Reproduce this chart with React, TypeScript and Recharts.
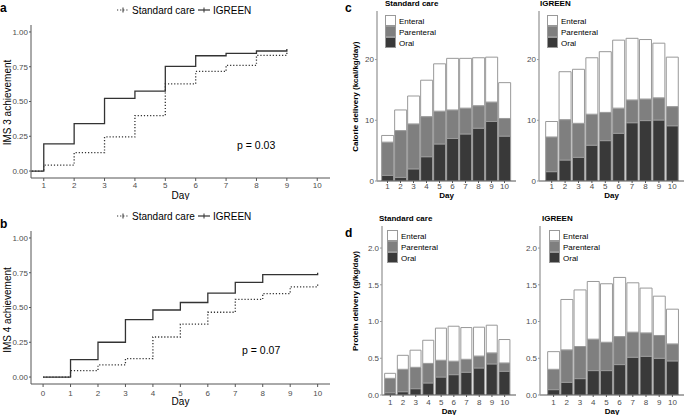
import React from 'react';
import { LineChart, Line, BarChart, Bar, XAxis, YAxis, Legend, Label } from 'recharts';

const FONT = '"Liberation Sans", Arial, sans-serif';

// IMS achievement (cumulative), step values per day
const DAYS_IMS3 = [0, 1, 2, 3, 4, 5, 6, 7, 8, 9];
const IGREEN_IMS3 = [0, 0.195, 0.341, 0.522, 0.575, 0.752, 0.829, 0.846, 0.863, 0.877];
const STANDARD_IMS3 = [0, 0.043, 0.132, 0.245, 0.399, 0.627, 0.716, 0.76, 0.832, 0.85];

const DAYS_IMS4 = [0, 1, 2, 3, 4, 5, 6, 7, 8, 9, 10];
const IGREEN_IMS4 = [0, 0.125, 0.25, 0.413, 0.482, 0.536, 0.603, 0.68, 0.736, 0.736, 0.75];
const STANDARD_IMS4 = [0, 0.046, 0.087, 0.132, 0.288, 0.38, 0.466, 0.558, 0.6, 0.649, 0.67];

const SURV_ORDER = ['Standard care', 'IGREEN'];

// nutrition delivery by route, days 1-10
const DAYS = ['1', '2', '3', '4', '5', '6', '7', '8', '9', '10'];
const ROUTE_ORDER = ['Enteral', 'Parenteral', 'Oral'];

const CAL_STD_ORAL = [0.93, 0.6, 2.0, 4.0, 6.1, 7.0, 7.75, 8.7, 9.8, 7.4];
const CAL_STD_PARENTERAL = [5.47, 7.7, 7.4, 6.6, 5.4, 4.7, 4.25, 3.7, 3.2, 2.9];
const CAL_STD_ENTERAL = [1.1, 3.4, 4.6, 6.0, 7.8, 8.5, 8.2, 7.9, 7.4, 5.9];

const CAL_IGR_ORAL = [1.54, 3.46, 3.9, 5.9, 6.65, 7.86, 9.6, 9.95, 10.05, 9.1];
const CAL_IGR_PARENTERAL = [5.71, 6.64, 5.6, 5.1, 4.65, 4.14, 3.75, 3.55, 3.65, 3.15];
const CAL_IGR_ENTERAL = [2.55, 7.9, 8.9, 9.3, 10.0, 11.2, 10.15, 9.8, 9.0, 8.15];

const PRO_STD_ORAL = [0.03, 0.045, 0.086, 0.164, 0.245, 0.277, 0.31, 0.368, 0.423, 0.323];
const PRO_STD_PARENTERAL = [0.197, 0.305, 0.291, 0.266, 0.228, 0.183, 0.176, 0.162, 0.15, 0.113];
const PRO_STD_ENTERAL = [0.068, 0.19, 0.233, 0.315, 0.437, 0.476, 0.432, 0.393, 0.377, 0.319];

const PRO_IGR_ORAL = [0.073, 0.173, 0.223, 0.332, 0.332, 0.414, 0.514, 0.527, 0.5, 0.464];
const PRO_IGR_PARENTERAL = [0.277, 0.441, 0.437, 0.428, 0.386, 0.381, 0.341, 0.318, 0.31, 0.231];
const PRO_IGR_ENTERAL = [0.24, 0.686, 0.77, 0.785, 0.796, 0.805, 0.672, 0.61, 0.535, 0.473];

const DOTTED = '1.2 1.9';

function sideTitle(text: string, x: number, y: number, size: number, bold = false) {
  return (
    <Label
      content={() => (
        <text x={x} y={y} transform={`rotate(-90, ${x}, ${y})`} textAnchor="middle" dominantBaseline="central"
          fontSize={size} fontWeight={bold ? 700 : 400} fontFamily={FONT} fill="#000">{text}</text>
      )}
    />
  );
}

function bottomTitle(text: string, y: number, size: number, bold = false) {
  return (
    <Label
      content={(props: any) => {
        const vb = props.viewBox || {};
        const x = (vb.x ?? 0) + (vb.width ?? 0) / 2;
        return (
          <text x={x} y={y} textAnchor="middle" dominantBaseline="central" fontSize={size}
            fontWeight={bold ? 700 : 400} fontFamily={FONT} fill="#000">{text}</text>
        );
      }}
    />
  );
}

const byOrder = (order: string[]) => (a: any, b: any) => order.indexOf(a.value) - order.indexOf(b.value);

function SurvKey({ payload }: any) {
  const items = [...(payload ?? [])].sort(byOrder(SURV_ORDER));
  const spots = [2, 83];
  return (
    <svg width={150} height={14}>
      {items.map((it: any, i: number) => {
        const x = spots[i] ?? 0;
        const dash = it.payload?.strokeDasharray;
        return (
          <g key={it.value}>
            <line x1={x} x2={x + 12} y1={7} y2={7} stroke="#333" strokeWidth={1.2} strokeDasharray={dash} />
            <line x1={x + 6} x2={x + 6} y1={4.5} y2={9.5} stroke="#333" strokeWidth={1} />
            <text x={x + 15} y={10.5} fontSize={10} fontFamily={FONT} fill="#000">{it.value}</text>
          </g>
        );
      })}
    </svg>
  );
}

function RouteKey({ payload }: any) {
  const items = [...(payload ?? [])].sort(byOrder(ROUTE_ORDER));
  return (
    <svg width={60} height={34}>
      {items.map((it: any, i: number) => (
        <g key={it.value}>
          <rect x={0.5} y={0.5 + i * 11} width={10} height={10} fill={it.color} stroke="#999" />
          <text x={14} y={8.5 + i * 11} fontSize={8} fontFamily={FONT} fill="#000">{it.value}</text>
        </g>
      ))}
    </svg>
  );
}

function Text({ x, y, size, bold, children }: any) {
  return (
    <div style={{ position: 'absolute', left: x, top: y, fontSize: size, lineHeight: `${size}px`, fontWeight: bold ? 700 : 400, fontFamily: FONT, whiteSpace: 'nowrap', color: '#000' }}>
      {children}
    </div>
  );
}

function SurvivalPanel(p: any) {
  const rows = p.days.map((d: number, i: number) => ({ day: d, standard: p.standard[i], igreen: p.igreen[i] }));
  const tick = { fontSize: 8, fill: '#4d4d4d', fontFamily: FONT };
  return (
    <div style={{ position: 'absolute', left: 0, top: p.top }}>
      <LineChart width={340} height={p.height} data={rows} margin={{ top: p.marginTop, right: 10, bottom: 0, left: 0 }}>
        <XAxis type="number" dataKey="day" domain={p.xDomain} ticks={p.xTicks} allowDataOverflow interval={0}
          height={p.xHeight} tickSize={3} tickMargin={p.xTickMargin} tick={tick}
          axisLine={{ stroke: '#555' }} tickLine={{ stroke: '#555' }}>
          {bottomTitle('Day', p.dayY, 10)}
        </XAxis>
        <YAxis domain={[-0.05, 1.05]} ticks={[0, 0.25, 0.5, 0.75, 1]} allowDataOverflow width={31}
          tickSize={2} tickMargin={1} tick={tick} tickFormatter={(v: number) => v.toFixed(2)}
          axisLine={{ stroke: '#555' }} tickLine={{ stroke: '#555' }}>
          {sideTitle(p.yTitle, 7, p.yTitleY, 10)}
        </YAxis>
        <Legend content={<SurvKey />} layout="vertical" align="center" verticalAlign="middle"
          wrapperStyle={{ left: 115, top: p.legendTop, width: 150, height: 14 }} />
        <Line type="stepAfter" dataKey="standard" name="Standard care" stroke="#333" strokeWidth={1.3}
          strokeDasharray={DOTTED} dot={false} activeDot={false} isAnimationActive={false} />
        <Line type="stepAfter" dataKey="igreen" name="IGREEN" stroke="#333" strokeWidth={1.3}
          dot={false} activeDot={false} isAnimationActive={false} />
      </LineChart>
    </div>
  );
}

function RoutePanel(p: any) {
  const rows = DAYS.map((d, i) => ({ day: d, oral: p.oral[i], parenteral: p.parenteral[i], enteral: p.enteral[i] }));
  const tick = { fontSize: 8, fill: '#4d4d4d', fontFamily: FONT };
  return (
    <div style={{ position: 'absolute', left: p.left, top: p.top }}>
      <BarChart width={p.width} height={p.height} data={rows} barCategoryGap="5%"
        margin={{ top: p.marginTop, right: p.marginRight, bottom: 0, left: 0 }}>
        <XAxis dataKey="day" height={p.xHeight} padding={p.pad} interval={0} tickSize={2} tickMargin={p.xTickMargin}
          tick={tick} axisLine={{ stroke: '#555' }} tickLine={{ stroke: '#555' }}>
          {bottomTitle('Day', p.dayY, 8, true)}
        </XAxis>
        <YAxis domain={[0, p.yMax]} ticks={p.yTicks} allowDataOverflow width={p.yWidth} tickSize={2} tickMargin={1}
          tick={tick} tickFormatter={(v: number) => v.toFixed(p.digits)}
          axisLine={{ stroke: '#9a9a9a', strokeWidth: 1.3 }} tickLine={{ stroke: '#9a9a9a' }}>
          {p.yTitle ? sideTitle(p.yTitle, p.yTitleX, p.yTitleY, 8, true) : null}
        </YAxis>
        <Legend content={<RouteKey />} layout="vertical" align="center" verticalAlign="middle"
          wrapperStyle={{ left: p.keyLeft, top: p.keyTop, width: 60, height: 34 }} />
        <Bar dataKey="oral" name="Oral" stackId="r" fill="#393939" stroke="#999" strokeWidth={1} isAnimationActive={false} />
        <Bar dataKey="parenteral" name="Parenteral" stackId="r" fill="#7f7f7f" stroke="#999" strokeWidth={1} isAnimationActive={false} />
        <Bar dataKey="enteral" name="Enteral" stackId="r" fill="#ffffff" stroke="#999" strokeWidth={1} isAnimationActive={false} />
      </BarChart>
    </div>
  );
}

export default function App() {
  return (
    <div style={{ position: 'absolute', left: 0, top: 0, width: 685, height: 415, background: '#fff', overflow: 'hidden' }}>
      <SurvivalPanel top={0} height={200} marginTop={25} xHeight={22} xTickMargin={1}
        days={DAYS_IMS3} igreen={IGREEN_IMS3} standard={STANDARD_IMS3}
        xDomain={[0.58, 10.42]} xTicks={[1, 2, 3, 4, 5, 6, 7, 8, 9, 10]}
        yTitle="IMS 3 achievement" yTitleY={102.5} dayY={195} legendTop={3} />
      <SurvivalPanel top={200} height={215} marginTop={31} xHeight={31} xTickMargin={3}
        days={DAYS_IMS4} igreen={IGREEN_IMS4} standard={STANDARD_IMS4}
        xDomain={[-0.44, 10.45]} xTicks={[0, 1, 2, 3, 4, 5, 6, 7, 8, 9, 10]}
        yTitle="IMS 4 achievement" yTitleY={110} dayY={201.7} legendTop={9} />

      <RoutePanel left={340} top={0} width={180} height={200} yWidth={37} marginTop={11} marginRight={4}
        xHeight={19} xTickMargin={0.5} pad={{ left: 4, right: 5 }} yMax={28} yTicks={[0, 10, 20]} digits={0}
        oral={CAL_STD_ORAL} parenteral={CAL_STD_PARENTERAL} enteral={CAL_STD_ENTERAL}
        keyLeft={45} keyTop={15} dayY={195.5}
        yTitle="Calorie delivery (kcal/kg/day)" yTitleX={16} yTitleY={96.7} />
      <RoutePanel left={500} top={0} width={185} height={200} yWidth={39} marginTop={11} marginRight={1}
        xHeight={19} xTickMargin={0.5} pad={{ left: 6, right: 5 }} yMax={28} yTicks={[0, 10, 20]} digits={0}
        oral={CAL_IGR_ORAL} parenteral={CAL_IGR_PARENTERAL} enteral={CAL_IGR_ENTERAL}
        keyLeft={47} keyTop={15} dayY={195.5} />
      <RoutePanel left={340} top={200} width={180} height={215} yWidth={42} marginTop={26} marginRight={4}
        xHeight={20} xTickMargin={2.5} pad={{ left: 2, right: 5 }} yMax={2.3} yTicks={[0, 0.5, 1, 1.5, 2]} digits={1}
        oral={PRO_STD_ORAL} parenteral={PRO_STD_PARENTERAL} enteral={PRO_STD_ENTERAL}
        keyLeft={47} keyTop={30} dayY={211.7}
        yTitle="Protein delivery (g/kg/day)" yTitleX={15} yTitleY={101} />
      <RoutePanel left={500} top={200} width={185} height={215} yWidth={40} marginTop={26} marginRight={1}
        xHeight={20} xTickMargin={2.5} pad={{ left: 7, right: 5 }} yMax={2.3} yTicks={[0, 0.5, 1, 1.5, 2]} digits={1}
        oral={PRO_IGR_ORAL} parenteral={PRO_IGR_PARENTERAL} enteral={PRO_IGR_ENTERAL}
        keyLeft={49} keyTop={30} dayY={211.7} />

      <Text x={0} y={2} size={12} bold>a</Text>
      <Text x={0} y={218} size={12} bold>b</Text>
      <Text x={345} y={1.5} size={12} bold>c</Text>
      <Text x={345} y={226.5} size={12} bold>d</Text>
      <Text x={237} y={139.5} size={10.5}>p = 0.03</Text>
      <Text x={242} y={344.5} size={10.5}>p = 0.07</Text>
      <Text x={385} y={-0.5} size={8} bold>Standard care</Text>
      <Text x={540} y={-0.5} size={8} bold>IGREEN</Text>
      <Text x={379} y={214.7} size={8} bold>Standard care</Text>
      <Text x={542} y={214.7} size={8} bold>IGREEN</Text>
    </div>
  );
}
